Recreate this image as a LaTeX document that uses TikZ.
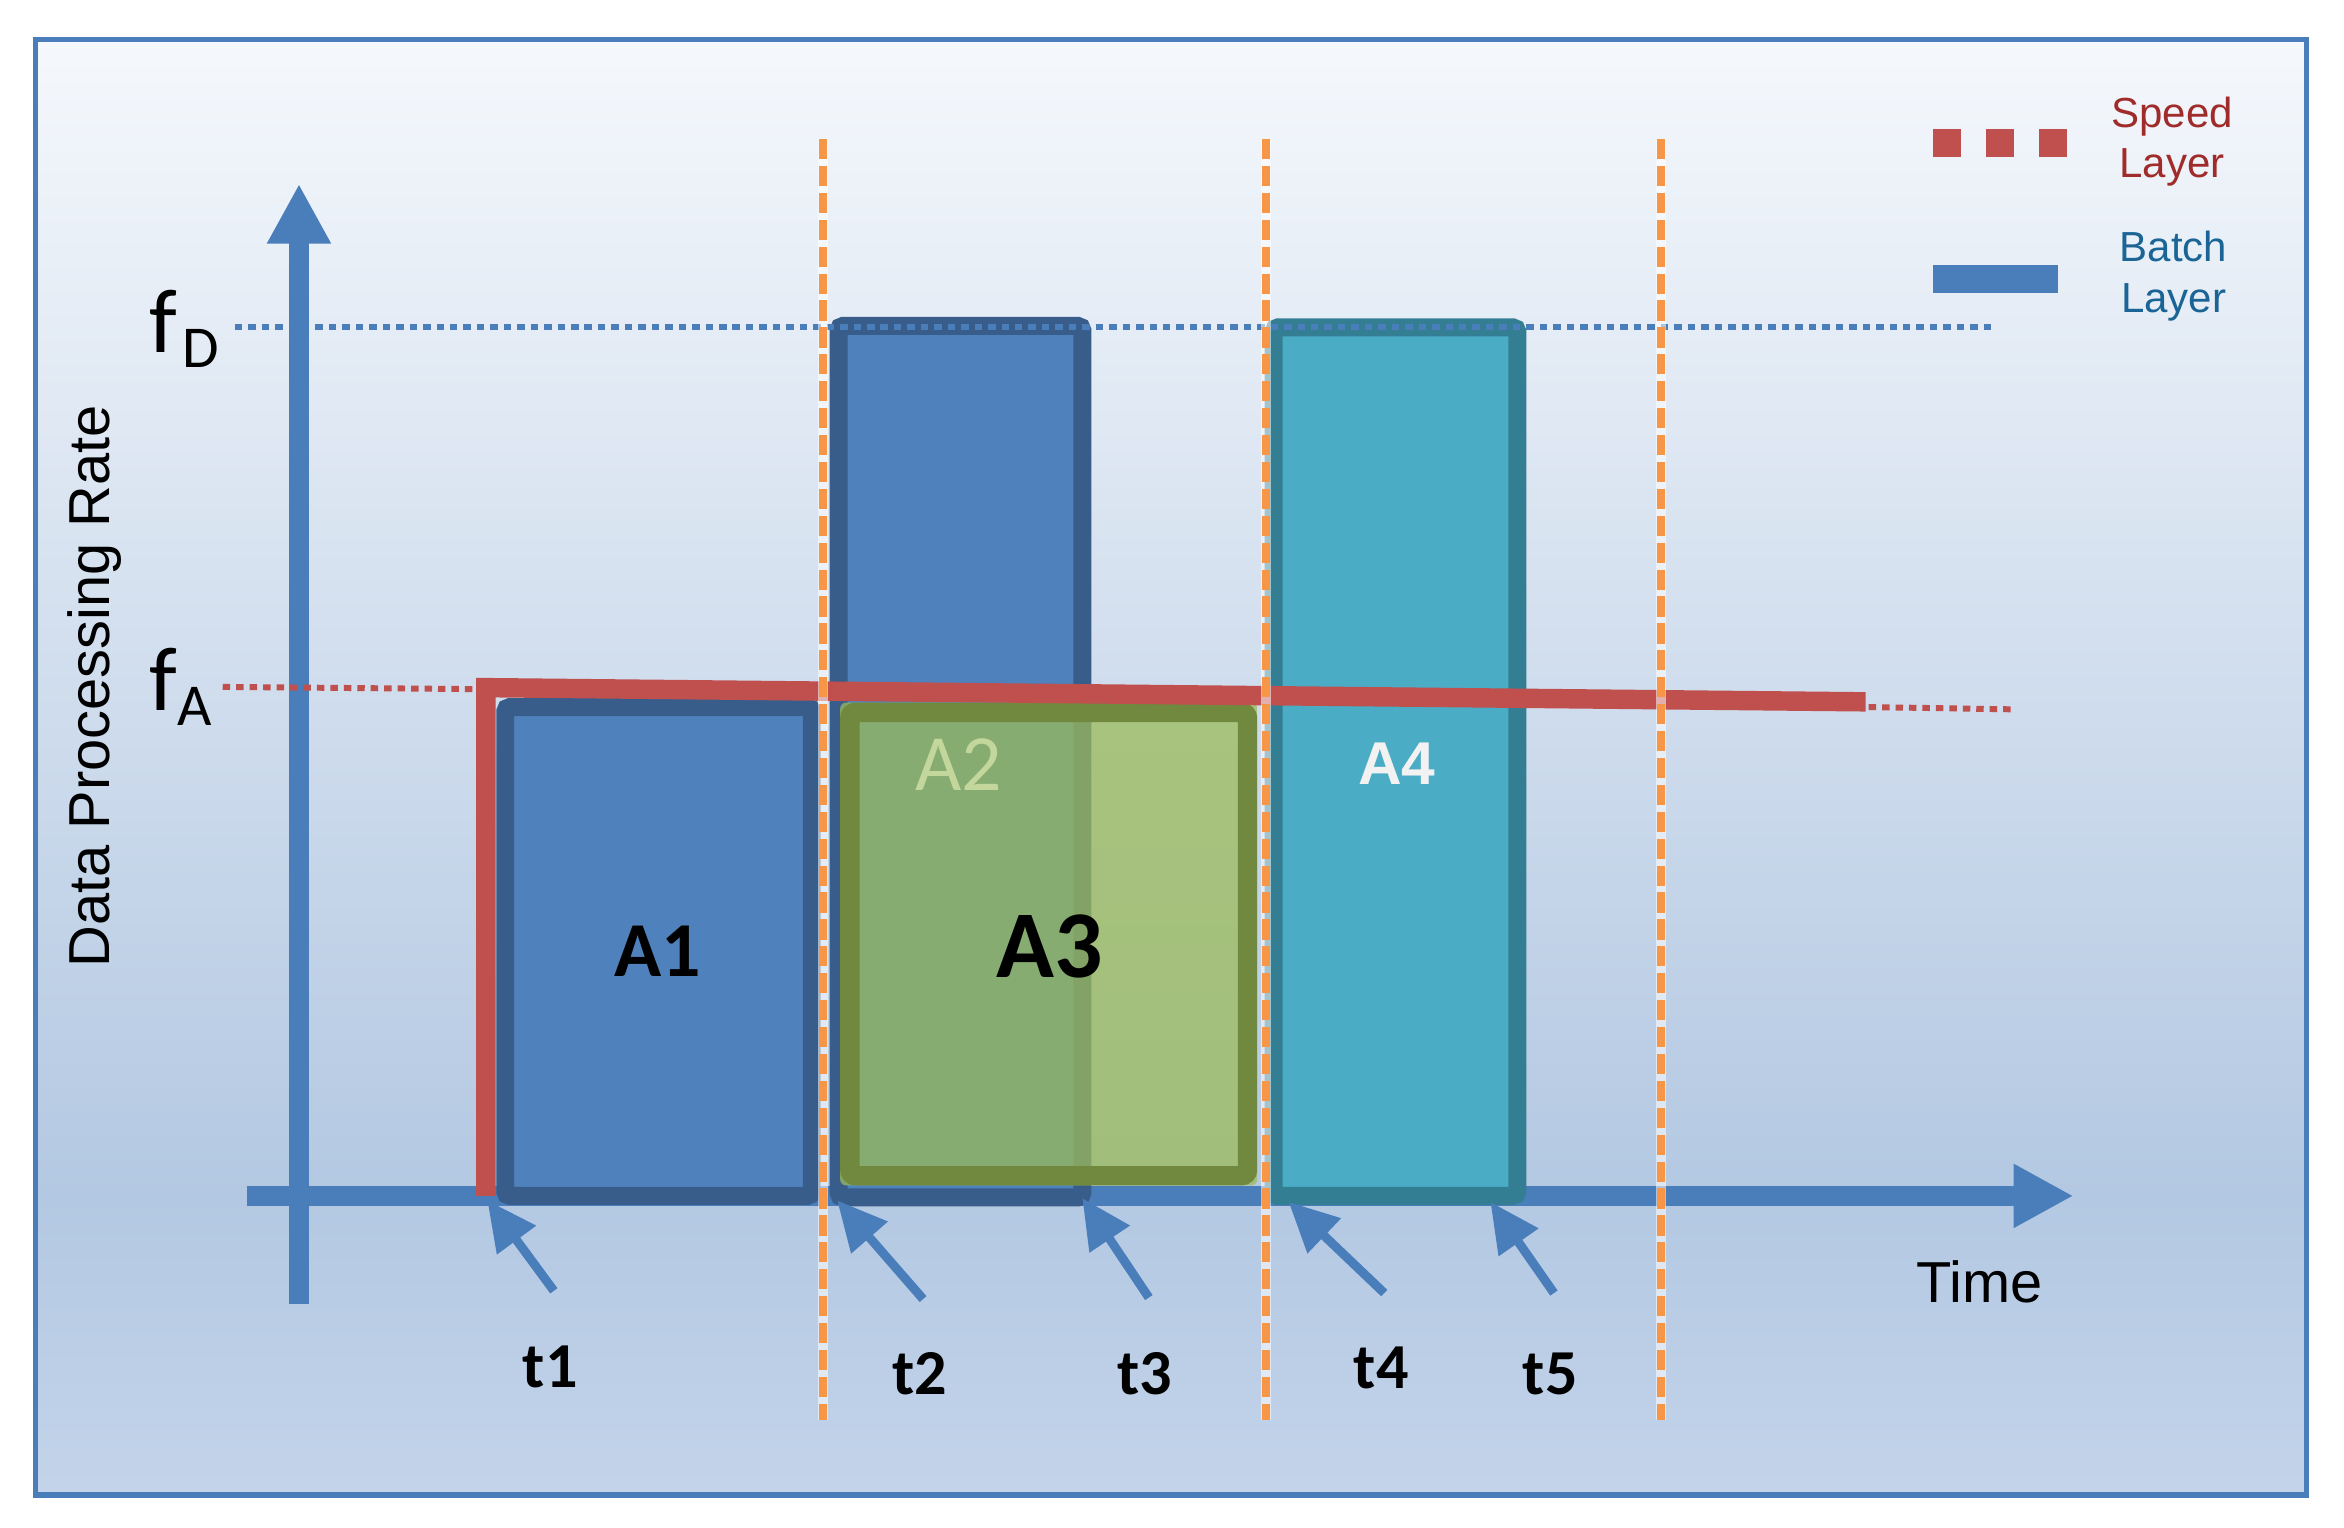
\documentclass[tikz,border=0pt]{standalone}
\usepackage{fontspec}
\setmainfont{Carlito}
\newfontfamily\arialf{Liberation Sans}
\usetikzlibrary{arrows.meta}
\definecolor{axisblue}{HTML}{4A7EBB}
\definecolor{boxblue}{HTML}{4F81BD}
\definecolor{boxblueD}{HTML}{385D8A}
\definecolor{tealfill}{HTML}{4BACC6}
\definecolor{tealD}{HTML}{337E92}
\definecolor{greenfill}{HTML}{9BBB59}
\definecolor{greenD}{HTML}{71893F}
\definecolor{speedred}{HTML}{C0504D}
\definecolor{orangeL}{HTML}{F79646}
\definecolor{speedtxt}{HTML}{A02B2B}
\definecolor{batchtxt}{HTML}{1A6596}
\definecolor{bgtop}{HTML}{F5F8FC}
\definecolor{bgmid}{HTML}{B3C8E2}
\definecolor{bgbot}{HTML}{C3D4EA}
\definecolor{atwo}{HTML}{C3D69B}
\tikzset{
  axisline/.style={axisblue, line width=1.3mm, -{Triangle[length=4mm,width=4mm]}},
  tarrow/.style={axisblue, line width=0.6mm, -{Triangle[length=3.3mm,width=3.1mm]}},
  barbox/.style={line width=1.2mm, rounded corners=0.3mm},
  orangedash/.style={orangeL, line width=0.5mm, dash pattern=on 1.35mm off 0.45mm},
  orangeback/.style={white, opacity=0.55, line width=0.7mm},
  txt/.style={inner sep=0pt, outer sep=0pt},
  tlabel/.style={txt, anchor=base, font=\bfseries\fontsize{12.2pt}{14pt}\selectfont},
  legendtxt/.style={txt, anchor=base, font=\arialf\fontsize{8pt}{9.6pt}\selectfont},
  fbig/.style={txt, anchor=base west, font=\fontsize{17.3pt}{20pt}\selectfont},
  fsub/.style={txt, anchor=base west, font=\fontsize{11.3pt}{13pt}\selectfont}
}
\begin{document}
\begin{tikzpicture}[x=0.1mm, y=-0.1mm]
\useasboundingbox (0,0) rectangle (1568,1022);
\fill[white] (0,0) rectangle (1568,1022);
% background gradient
\shade[top color=bgtop, bottom color=bgmid] (24,26.5) rectangle (1543,800);
\shade[top color=bgmid, bottom color=bgbot] (24,800) rectangle (1543,1000);
\draw[axisblue, line width=0.35mm] (24,26.5) rectangle (1543,1000);

% axes
\coordinate (ybot) at (200,872);
\coordinate (ytop) at (200,123);
\coordinate (xleft) at (165,800);
\coordinate (xright) at (1387,800);
\draw[axisline] (ybot) -- (ytop);
\draw[axisline] (xleft) -- (xright);

% bars
\draw[barbox, fill=boxblue, draw=boxblueD] (338,473) rectangle (543,800);
\draw[barbox, fill=boxblue, draw=boxblueD] (561,218) rectangle (724,801);
\draw[barbox, fill=tealfill, draw=tealD] (852,219) rectangle (1015,800);

% fD dotted line
\coordinate (fdl) at (157,219);
\coordinate (fdr) at (1335,219);
\draw[axisblue, line width=0.4mm, dash pattern=on 0.5mm off 0.4mm] (fdl) -- (fdr);

% A3 green box (semi transparent)
\fill[greenfill, fill opacity=0.75, rounded corners=0.4mm] (562,470) rectangle (841,793);
\draw[greenD, line width=1.3mm, rounded corners=0.4mm] (568.5,476.5) rectangle (834.5,786.5);

% speed layer red line
\coordinate (rb) at (325,800);
\coordinate (rt) at (325,460);
\coordinate (re) at (1248,469.5);
\draw[speedred, line width=1.3mm] (rb) -- (rt) -- (re);
\coordinate (fal) at (149,459.5);
\coordinate (far) at (318,461);
\coordinate (fbl) at (1250,473);
\coordinate (fbr) at (1345,474.5);
\draw[speedred, line width=0.4mm, dash pattern=on 0.5mm off 0.4mm] (fal) -- (far);
\draw[speedred, line width=0.4mm, dash pattern=on 0.5mm off 0.4mm] (fbl) -- (fbr);

% orange dashed time lines
\foreach \xx/\nm in {550.5/oa, 847/ob, 1111/oc}{
  \coordinate (\nm t) at (\xx,93);
  \coordinate (\nm b) at (\xx,950);
  \draw[orangeback] (\nm t) -- (\nm b);
  \draw[orangedash] (\nm t) -- (\nm b);
}

% t arrows
\coordinate (t1s) at (370.5,863.5); \coordinate (t1e) at (326,803);
\coordinate (t2s) at (617.5,869);   \coordinate (t2e) at (560,803);
\coordinate (t3s) at (768.5,868);   \coordinate (t3e) at (724,801.5);
\coordinate (t4s) at (926,865);     \coordinate (t4e) at (862,804);
\coordinate (t5s) at (1039.5,865);  \coordinate (t5e) at (997,804);
\foreach \i in {1,...,5}{ \draw[tarrow] (t\i s) -- (t\i e); }

% t labels
\node[tlabel] (lt1) at (368,928) {t1};
\node[tlabel] (lt2) at (615,933) {t2};
\node[tlabel] (lt3) at (766,933) {t3};
\node[tlabel] (lt4) at (924,929) {t4};
\node[tlabel] (lt5) at (1037,933) {t5};

% area labels
\node[txt, anchor=base, font=\bfseries\fontsize{14.8pt}{17pt}\selectfont] (la1) at (440,653.5) {A1};
\node[txt, anchor=base, text=atwo, font=\fontsize{15.2pt}{17pt}\selectfont] (la2) at (641.5,528.5) {A2};
\node[txt, anchor=base, font=\bfseries\fontsize{18.2pt}{21pt}\selectfont] (la3) at (702,654) {A3};
\node[txt, anchor=base, text={black!5}, font=\arialf\bfseries\fontsize{11.5pt}{14pt}\selectfont] (la4) at (934.5,525) {A4};

% axis labels
\node[txt, anchor=base, font=\arialf\fontsize{11pt}{13pt}\selectfont] (ltime) at (1324,871) {Time};
\node[txt, rotate=90, font=\arialf\fontsize{11pt}{13pt}\selectfont] (lrate) at (63,459) {Data Processing Rate};
\node[fbig] (lfd) at (100,236) {f};
\node[fsub] (lfds) at (122,246) {D};
\node[fbig] (lfa) at (100,475) {f};
\node[fsub] (lfas) at (119,485) {A};

% legend
\coordinate (lg1a) at (1293,95.5); \coordinate (lg1b) at (1383,95.5);
\coordinate (lg2a) at (1293,186.5); \coordinate (lg2b) at (1377,186.5);
\draw[speedred, line width=1.9mm, dash pattern=on 1.9mm off 1.65mm] (lg1a) -- (lg1b);
\draw[axisblue, line width=1.9mm] (lg2a) -- (lg2b);
\node[legendtxt, text=speedtxt] (ls1) at (1453,85) {Speed};
\node[legendtxt, text=speedtxt] (ls2) at (1453,119) {Layer};
\node[legendtxt, text=batchtxt] (lb1) at (1454,175) {Batch};
\node[legendtxt, text=batchtxt] (lb2) at (1454,209) {Layer};
\end{tikzpicture}
\end{document}
